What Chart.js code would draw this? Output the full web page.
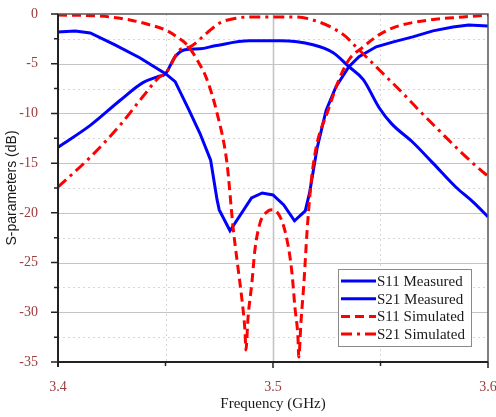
<!DOCTYPE html>
<html>
<head>
<meta charset="utf-8">
<script src="https://cdn.jsdelivr.net/npm/chart.js@4.4.1/dist/chart.umd.min.js"></script>
<style>
  html, body { margin: 0; padding: 0; background: #fff; }
  #wrap { width: 496px; height: 417px; }
</style>
</head>
<body>
<div id="wrap"><canvas id="sparChart" width="496" height="417"></canvas></div>
<script>
// measured S11 (blue)
const freqS11Meas = [3.400, 3.408, 3.415, 3.4265, 3.438, 3.450, 3.4545, 3.461, 3.466, 3.471, 3.474, 3.475, 3.480, 3.490, 3.495, 3.500, 3.505, 3.510, 3.515, 3.517, 3.5205, 3.5247, 3.5293, 3.5353, 3.540, 3.548, 3.556, 3.565, 3.5744, 3.5837, 3.591, 3.600];
const s11Meas = [-1.8, -1.7, -1.9, -3.1, -4.4, -6.0, -6.8, -9.7, -12.0, -14.7, -18.7, -19.7, -21.8, -18.5, -18.0, -18.2, -19.2, -20.8, -19.8, -18.0, -13.5, -9.7, -7.3, -5.3, -4.3, -3.3, -2.8, -2.3, -1.7, -1.3, -1.1, -1.2];

// measured S21 (blue)
const freqS21Meas = [3.400, 3.415, 3.4288, 3.4395, 3.4465, 3.450, 3.4545, 3.459, 3.466, 3.473, 3.489, 3.5035, 3.5186, 3.528, 3.5353, 3.542, 3.5493, 3.555, 3.565, 3.5744, 3.585, 3.593, 3.600];
const s21Meas = [-13.4, -11.2, -8.7, -6.9, -6.3, -6.0, -4.3, -3.6, -3.5, -3.2, -2.7, -2.7, -3.1, -3.9, -5.3, -6.6, -9.4, -11.0, -12.9, -15.0, -17.4, -18.9, -20.4];

// simulated S11 (red dashed)
const freqS11Sim = [3.400, 3.419, 3.4335, 3.4428, 3.450, 3.4553, 3.460, 3.4647, 3.4693, 3.474, 3.4786, 3.4814, 3.4837, 3.4856, 3.487, 3.4874, 3.4884, 3.4902, 3.4916, 3.494, 3.4972, 3.4995, 3.5033, 3.5065, 3.5088, 3.5102, 3.5116, 3.512, 3.513, 3.5144, 3.5158, 3.5177, 3.520, 3.5256, 3.5307, 3.5353, 3.542, 3.5493, 3.557, 3.5726, 3.5884, 3.600];
const s11Sim = [-0.1, -0.2, -0.6, -1.1, -1.6, -2.3, -3.1, -4.6, -6.6, -10.0, -15.0, -21.4, -25.5, -28.8, -32.0, -33.8, -30.5, -27.0, -23.7, -21.0, -19.9, -19.7, -20.4, -22.7, -26.0, -29.5, -32.5, -34.5, -31.0, -27.0, -22.0, -17.0, -13.5, -9.7, -6.6, -4.6, -3.3, -2.1, -1.3, -0.6, -0.3, -0.1];

// simulated S21 (red dash-dot)
const freqS21Sim = [3.400, 3.415, 3.4288, 3.4395, 3.4474, 3.450, 3.4567, 3.4614, 3.4693, 3.4753, 3.4833, 3.4893, 3.5107, 3.5214, 3.5293, 3.534, 3.5386, 3.5447, 3.5526, 3.5605, 3.568, 3.5772, 3.5865, 3.5977, 3.600];
const s21Sim = [-17.4, -14.4, -11.2, -8.3, -6.3, -6.0, -3.6, -3.3, -1.9, -0.9, -0.4, -0.3, -0.3, -0.8, -1.6, -2.3, -3.3, -4.6, -6.3, -8.0, -9.7, -11.7, -13.7, -15.9, -16.3];

const xTickLabels = [3.4, 3.5, 3.6];
const yTickLabels = [0, -5, -10, -15, -20, -25, -30, -35];

const seriesNames = ["S11 Measured", "S21 Measured", "S11 Simulated", "S21 Simulated"];

const labelColor = "#9b3a3a";
const serif = "'Liberation Serif', 'Times New Roman', serif";
const dashS11 = [9, 5];
const dashS21 = [11, 5, 3, 5];

function toPoints(xs, ys) {
  return xs.map((x, i) => ({ x: x, y: ys[i] }));
}

const near = (a, b) => Math.abs(a - b) < 1e-6;

// grid, frame, ticks and legend
const framePlugin = {
  id: "framePlugin",
  beforeDatasetsDraw(chart) {
    const { ctx, chartArea: a, scales } = chart;
    const xs = scales.x, ys = scales.y;
    ctx.save();
    for (let v = -32.5; v < 0; v += 2.5) {
      const y = Math.round(ys.getPixelForValue(v)) + 0.5;
      const major = near(v % 5, 0);
      ctx.beginPath();
      ctx.strokeStyle = major ? "#c4c4c4" : "#d6d6d6";
      ctx.lineWidth = major ? 1.2 : 1;
      ctx.setLineDash(major ? [] : [2, 3]);
      ctx.moveTo(a.left, y);
      ctx.lineTo(a.right, y);
      ctx.stroke();
    }
    [3.45, 3.5, 3.55].forEach((v) => {
      const x = Math.round(xs.getPixelForValue(v)) + 0.5;
      const major = near(v, 3.5);
      ctx.beginPath();
      ctx.strokeStyle = major ? "#c4c4c4" : "#d6d6d6";
      ctx.lineWidth = major ? 1.6 : 1;
      ctx.setLineDash(major ? [] : [2, 3]);
      ctx.moveTo(x, a.top);
      ctx.lineTo(x, a.bottom);
      ctx.stroke();
    });
    ctx.restore();
  },
  afterDatasetsDraw(chart) {
    const { ctx, chartArea: a, scales } = chart;
    const xs = scales.x, ys = scales.y;
    ctx.save();
    ctx.setLineDash([]);
    // frame
    ctx.strokeStyle = "#555";
    ctx.lineWidth = 1.5;
    ctx.strokeRect(a.left, a.top, a.right - a.left, a.bottom - a.top);
    ctx.strokeStyle = "#222";
    ctx.lineWidth = 2;
    ctx.beginPath();
    ctx.moveTo(a.left, a.top);
    ctx.lineTo(a.left, a.bottom + 5);
    ctx.moveTo(a.left - 1, a.bottom);
    ctx.lineTo(a.right, a.bottom);
    ctx.stroke();
    // ticks
    ctx.lineWidth = 1.5;
    ctx.beginPath();
    for (let v = -35; v <= 0.001; v += 2.5) {
      const y = ys.getPixelForValue(v);
      const len = near(v % 5, 0) ? 7 : 4;
      ctx.moveTo(a.left - len, y);
      ctx.lineTo(a.left, y);
    }
    [3.45, 3.5, 3.55, 3.6].forEach((v) => {
      const x = xs.getPixelForValue(v);
      const len = near(v, 3.5) || near(v, 3.6) ? 6 : 4;
      ctx.moveTo(x, a.bottom);
      ctx.lineTo(x, a.bottom + len);
    });
    ctx.stroke();

    // legend
    const box = { x: 338, y: 269, w: 133, h: 77 };
    ctx.fillStyle = "#fff";
    ctx.fillRect(box.x, box.y, box.w, box.h);
    ctx.strokeStyle = "#8a8a8a";
    ctx.lineWidth = 1;
    ctx.strokeRect(box.x + 0.5, box.y + 0.5, box.w, box.h);
    ctx.font = "15px " + serif;
    ctx.textBaseline = "middle";
    ctx.textAlign = "left";
    chart.data.datasets.forEach((ds, i) => {
      const y = box.y + 12 + i * 17.7;
      ctx.beginPath();
      ctx.strokeStyle = ds.borderColor;
      ctx.lineWidth = 3;
      ctx.setLineDash(ds.borderDash || []);
      ctx.moveTo(box.x + 3, y);
      ctx.lineTo(box.x + 38, y);
      ctx.stroke();
      ctx.setLineDash([]);
      ctx.fillStyle = "#1a1a1a";
      ctx.fillText(ds.label, box.x + 39, y + 1);
    });
    ctx.restore();
  },
};

const ctx = document.getElementById("sparChart").getContext("2d");
const chart = new Chart(ctx, {
  type: "line",
  data: {
    datasets: [
      {
        label: seriesNames[0],
        data: toPoints(freqS11Meas, s11Meas),
        borderColor: "#0000ff",
        borderWidth: 3,
        tension: 0,
        order: 2,
      },
      {
        label: seriesNames[1],
        data: toPoints(freqS21Meas, s21Meas),
        borderColor: "#0000ff",
        borderWidth: 3,
        cubicInterpolationMode: "monotone",
        order: 2,
      },
      {
        label: seriesNames[2],
        data: toPoints(freqS11Sim, s11Sim),
        borderColor: "#ff0000",
        borderWidth: 3,
        borderDash: dashS11,
        cubicInterpolationMode: "monotone",
        order: 1,
      },
      {
        label: seriesNames[3],
        data: toPoints(freqS21Sim, s21Sim),
        borderColor: "#ff0000",
        borderWidth: 3,
        borderDash: dashS21,
        cubicInterpolationMode: "monotone",
        order: 1,
      },
    ],
  },
  options: {
    responsive: false,
    animation: false,
    devicePixelRatio: 1,
    layout: { padding: { top: 14, right: 8, left: 0, bottom: 0 } },
    elements: { point: { radius: 0 }, line: { borderCapStyle: "butt" } },
    plugins: { legend: { display: false }, tooltip: { enabled: false } },
    scales: {
      x: {
        type: "linear",
        min: 3.4,
        max: 3.6,
        afterFit: (s) => {
          s.height = 55;
          s.paddingLeft = 0;
          s.paddingRight = 0;
        },
        afterBuildTicks: (s) => {
          s.ticks = xTickLabels.map((v) => ({ value: v }));
        },
        grid: { display: false },
        border: { display: false },
        ticks: {
          color: labelColor,
          font: { family: serif, size: 14 },
          padding: 9,
          maxRotation: 0,
          callback: (v) => v.toFixed(1),
        },
        title: {
          display: true,
          text: "Frequency (GHz)",
          color: "#1a1a1a",
          font: { family: serif, size: 15 },
          padding: { top: 0, bottom: 4 },
        },
      },
      y: {
        min: -35,
        max: 0,
        afterFit: (s) => {
          s.width = 58;
          s.paddingTop = 0;
          s.paddingBottom = 0;
        },
        afterBuildTicks: (s) => {
          s.ticks = yTickLabels.map((v) => ({ value: v }));
        },
        grid: { display: false },
        border: { display: false },
        ticks: {
          color: labelColor,
          font: { family: serif, size: 14 },
          padding: 12,
          callback: (v) => String(v),
        },
        title: {
          display: true,
          text: "S-parameters (dB)",
          color: "#1a1a1a",
          font: { family: "'Liberation Sans', Arial, sans-serif", size: 14 },
          padding: { top: 4, bottom: 0 },
        },
      },
    },
  },
  plugins: [framePlugin],
});
</script>
</body>
</html>
